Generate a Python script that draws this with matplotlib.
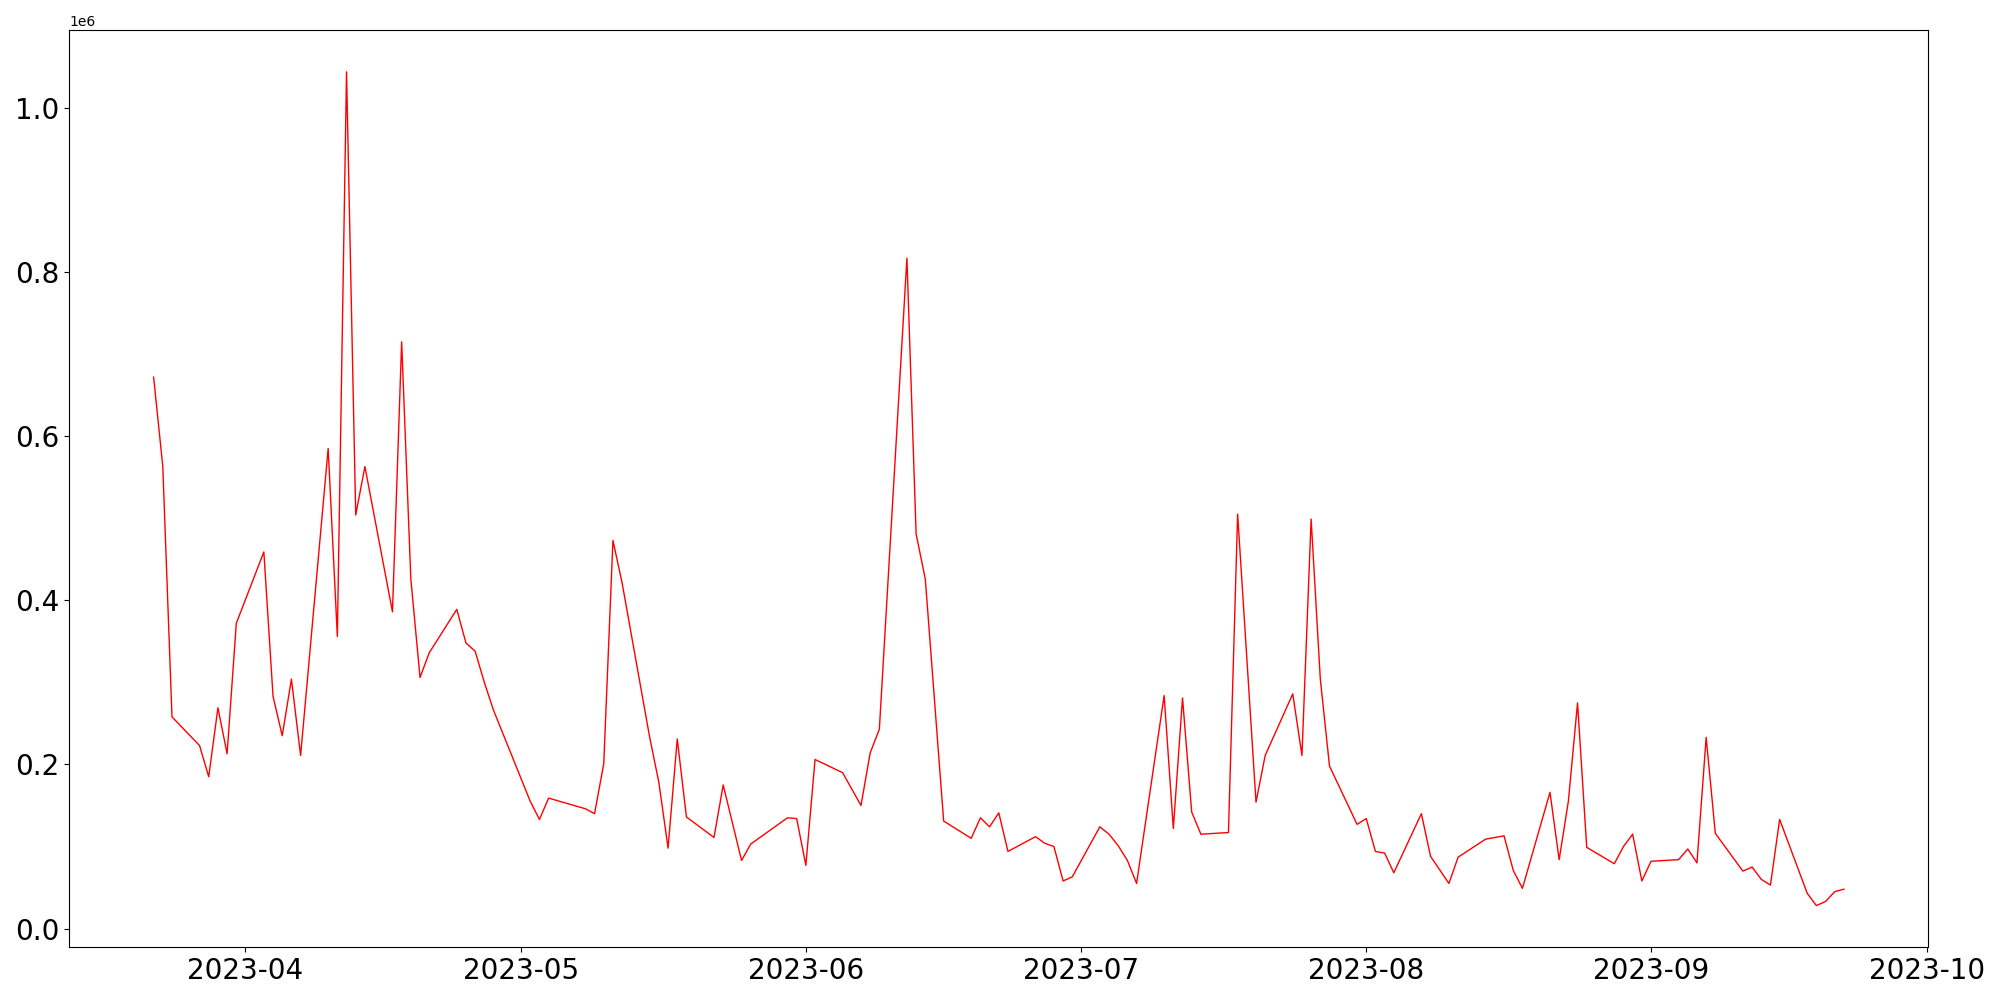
import pandas as pd
import matplotlib.pyplot as plt

# daily values (weekdays only, some days missing)
dates = [
    '2023-03-22', '2023-03-23', '2023-03-24', '2023-03-27', '2023-03-28', '2023-03-29', '2023-03-30', '2023-03-31',
    '2023-04-03', '2023-04-04', '2023-04-05', '2023-04-06', '2023-04-07', '2023-04-10', '2023-04-11', '2023-04-12',
    '2023-04-13', '2023-04-14', '2023-04-17', '2023-04-18', '2023-04-19', '2023-04-20', '2023-04-21', '2023-04-24',
    '2023-04-25', '2023-04-26', '2023-04-27', '2023-04-28', '2023-05-02', '2023-05-03', '2023-05-04', '2023-05-08',
    '2023-05-09', '2023-05-10', '2023-05-11', '2023-05-12', '2023-05-15', '2023-05-16', '2023-05-17', '2023-05-18',
    '2023-05-19', '2023-05-22', '2023-05-23', '2023-05-25', '2023-05-26', '2023-05-30', '2023-05-31', '2023-06-01',
    '2023-06-02', '2023-06-05', '2023-06-07', '2023-06-08', '2023-06-09', '2023-06-12', '2023-06-13', '2023-06-14',
    '2023-06-16', '2023-06-19', '2023-06-20', '2023-06-21', '2023-06-22', '2023-06-23', '2023-06-26', '2023-06-27',
    '2023-06-28', '2023-06-29', '2023-06-30', '2023-07-03', '2023-07-04', '2023-07-05', '2023-07-06', '2023-07-07',
    '2023-07-10', '2023-07-11', '2023-07-12', '2023-07-13', '2023-07-14', '2023-07-17', '2023-07-18', '2023-07-20',
    '2023-07-21', '2023-07-24', '2023-07-25', '2023-07-26', '2023-07-27', '2023-07-28', '2023-07-31', '2023-08-01',
    '2023-08-02', '2023-08-03', '2023-08-04', '2023-08-07', '2023-08-08', '2023-08-10', '2023-08-11', '2023-08-14',
    '2023-08-16', '2023-08-17', '2023-08-18', '2023-08-21', '2023-08-22', '2023-08-23', '2023-08-24', '2023-08-25',
    '2023-08-28', '2023-08-29', '2023-08-30', '2023-08-31', '2023-09-01', '2023-09-04', '2023-09-05', '2023-09-06',
    '2023-09-07', '2023-09-08', '2023-09-11', '2023-09-12', '2023-09-13', '2023-09-14', '2023-09-15', '2023-09-18',
    '2023-09-19', '2023-09-20', '2023-09-21', '2023-09-22',
]

values = [
    672000, 563000, 258000, 223000, 185000, 269000, 213000, 372000,
    459000, 283000, 235000, 304000, 211000, 585000, 356000, 1044000,
    504000, 563000, 386000, 715000, 426000, 306000, 336000, 389000,
    348000, 338000, 300000, 266000, 155000, 133000, 159000, 146000,
    140000, 201000, 473000, 421000, 233000, 178000, 98000, 231000,
    136000, 111000, 175000, 83000, 103000, 135000, 134000, 77000,
    206000, 190000, 150000, 214000, 243000, 817000, 481000, 426000,
    131000, 110000, 135000, 124000, 141000, 94000, 112000, 104000,
    100000, 58000, 63000, 124000, 115000, 101000, 83000, 55000,
    284000, 122000, 281000, 142000, 115000, 117000, 505000, 154000,
    211000, 286000, 211000, 499000, 304000, 198000, 127000, 134000,
    94000, 92000, 68000, 140000, 88000, 55000, 87000, 109000,
    113000, 71000, 49000, 166000, 84000, 155000, 275000, 99000,
    79000, 100000, 115000, 58000, 82000, 84000, 97000, 80000,
    233000, 116000, 70000, 75000, 60000, 53000, 133000, 43000,
    28000, 33000, 45000, 48000,
]

x = pd.to_datetime(dates)

plt.figure(figsize=(20, 10))
plt.plot(x, values, color='red', linewidth=1)
plt.xticks(fontsize=20)
plt.yticks(fontsize=20)
plt.tight_layout()
plt.savefig('out.png', dpi=100)
